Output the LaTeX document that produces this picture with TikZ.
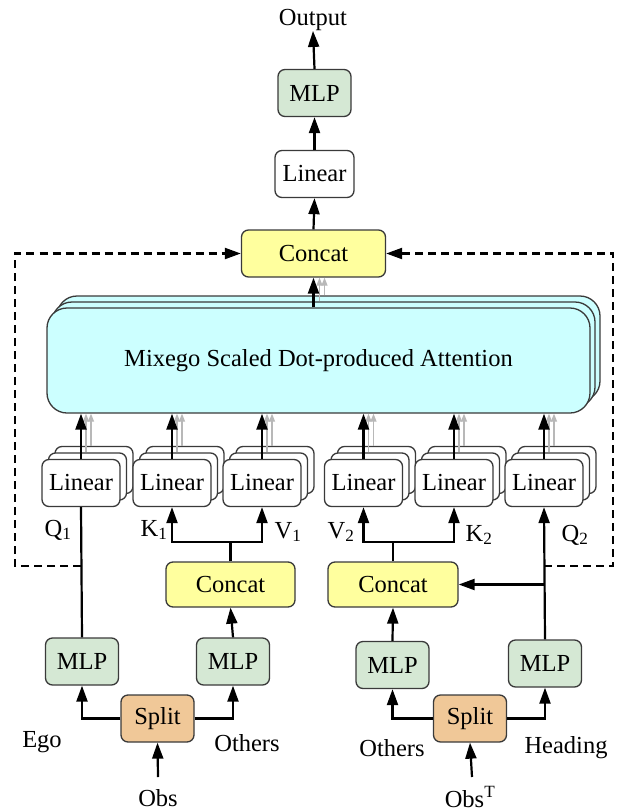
\documentclass[tikz,border=0pt]{standalone}
\usepackage{fontspec}
\setmainfont{Liberation Serif}
\usetikzlibrary{arrows.meta,shadows}
\definecolor{mlpgreen}{HTML}{D5E8D4}
\definecolor{concyellow}{HTML}{FFFF9E}
\definecolor{splittan}{HTML}{F0C898}
\definecolor{attcyan}{HTML}{CCFFFF}
\definecolor{bordergray}{HTML}{3A3A3A}
\begin{document}
\begin{tikzpicture}[x=1pt,y=-1pt,
  txt/.style={font=\fontsize{24.5}{29}\selectfont, inner sep=0pt},
  box/.style={txt, draw=bordergray, line width=1.3pt, rounded corners=7pt, minimum width=#1, minimum height=47pt},
  box/.default=73pt,
  mlpbox/.style={box=73pt, fill=mlpgreen},
  concbox/.style={box=#1, fill=concyellow},
  splitbox/.style={box=73pt, fill=splittan},
  linbox/.style={box=#1, fill=white},
  stacklin/.style={linbox=78pt, double copy shadow={shadow xshift=6.5pt, shadow yshift=6.5pt}},
  arr/.style={line width=2.2pt, -{Triangle[width=11pt,length=16pt]}},
  plain/.style={line width=2.2pt},
  garr/.style={line width=1.3pt, draw=black!28, -{Triangle[width=6pt,length=8pt]}, color=black!28},
  dashline/.style={line width=2.2pt, dash pattern=on 8pt off 5pt, -{Triangle[width=11pt,length=16pt]}}
]
\useasboundingbox (0,0) rectangle (631,812);

% top part
\node[txt] (out) at (313,20) {Output};
\node[mlpbox] (mlpT) at (314.5,93) {MLP};
\node[linbox=79pt] (linT) at (314.5,174) {Linear};
\node[concbox=144pt] (concT) at (313.5,253.5) {Concat};

% attention
\node[txt, draw=bordergray, line width=1.3pt, fill=attcyan, rounded corners=20pt,
  minimum width=543pt, minimum height=105pt,
  double copy shadow={shadow xshift=5pt, shadow yshift=6pt}] (att) at (318.5,360.5)
  {Mixego Scaled Dot-produced Attention};

% linear row
\node[stacklin] (L1) at (81,483) {Linear};
\node[stacklin] (L2) at (172,483) {Linear};
\node[stacklin] (L3) at (262,483) {Linear};
\node[stacklin] (L4) at (363.5,483) {Linear};
\node[stacklin] (L5) at (454,483) {Linear};
\node[stacklin] (L6) at (544,483) {Linear};

% labels Q K V
\node[txt] (q1) at (58,530) {Q\textsubscript{1}};
\node[txt] (k1) at (154,530) {K\textsubscript{1}};
\node[txt] (v1) at (288,532) {V\textsubscript{1}};
\node[txt] (v2) at (341,532) {V\textsubscript{2}};
\node[txt] (k2) at (479,535) {K\textsubscript{2}};
\node[txt] (q2) at (575,535) {Q\textsubscript{2}};

% concat boxes
\node[concbox=129pt, minimum height=45pt] (C1) at (230.5,584.5) {Concat};
\node[concbox=130pt, minimum height=45pt] (C2) at (393,584.5) {Concat};

% MLPs
\node[mlpbox] (M1) at (82,661.5) {MLP};
\node[mlpbox] (M2) at (233,661.5) {MLP};
\node[mlpbox] (M3) at (392.5,665) {MLP};
\node[mlpbox] (M4) at (545,663.5) {MLP};

% splits
\node[splitbox] (S1) at (157.5,718.5) {Split};
\node[splitbox] (S2) at (470,718.5) {Split};

% bottom labels
\node[txt] (ego) at (42,742) {Ego};
\node[txt] (oth1) at (247,743) {Others};
\node[txt] (oth2) at (392,748) {Others};
\node[txt] (head) at (566,748) {Heading};
\node[txt] (obs) at (158,798) {Obs};
\node[txt] (obsT) at (470,797) {Obs\textsuperscript{T}};

% coordinates
\coordinate (b1) at (230.5,542);
\coordinate (b2) at (393,542);
\coordinate (dl) at (15,566);
\coordinate (dr) at (613,566);
\coordinate (obsin) at (158,777);
\coordinate (obsTin) at (472,777);

% top chain
\draw[arr] (mlpT.north) -- (out.south);
\draw[arr] (linT.north) -- (mlpT.south);
\draw[arr] (concT.north) -- (linT.south);

% gray arrows behind
\foreach \n in {L1,L2,L3,L4,L5,L6}{
  \draw[garr] ([xshift=5pt,yshift=6.5pt]\n.north) -- ([xshift=5pt]\n.north |- att.south);
  \draw[garr] ([xshift=10pt,yshift=13pt]\n.north) -- ([xshift=10pt]\n.north |- att.south);
}
\draw[garr] ([xshift=6pt,yshift=6pt]concT.south |- att.north) -- ([xshift=6pt]concT.south);
\draw[garr] ([xshift=11pt,yshift=12pt]concT.south |- att.north) -- ([xshift=11pt]concT.south);

% linear -> attention
\foreach \n in {L1,L2,L3,L4,L5,L6}{
  \draw[arr] (\n.north) -- (\n.north |- att.south);
}
\draw[arr] (concT.south |- att.north) -- (concT.south);

% left branch
\draw[plain] (M1.north) -- (L1.south);
\draw[arr] (S1.west) -| (M1.south);
\draw[arr] (S1.east) -| (M2.south);
\draw[arr] (obsin) -- (S1.south);
\draw[arr] (M2.north) -- (C1.south);
\draw[plain] (C1.north) -- (b1);
\draw[arr] (b1) -| (L2.south);
\draw[arr] (b1) -| (L3.south);

% right branch
\draw[arr] (S2.west) -| (M3.south);
\draw[arr] (S2.east) -| (M4.south);
\draw[arr] (obsTin) -- (S2.south);
\draw[arr] (M3.north) -- (C2.south);
\draw[plain] (C2.north) -- (b2);
\draw[arr] (b2) -| (L4.south);
\draw[arr] (b2) -| (L5.south);
\draw[arr] (M4.north) -- (L6.south);
\draw[arr] (M4.north |- C2.east) -- (C2.east);

% dashed feedback
\draw[dashline] (L1.south |- dl) -- (dl) |- (concT.west);
\draw[dashline] (L6.south |- dr) -- (dr) |- (concT.east);
\end{tikzpicture}
\end{document}
